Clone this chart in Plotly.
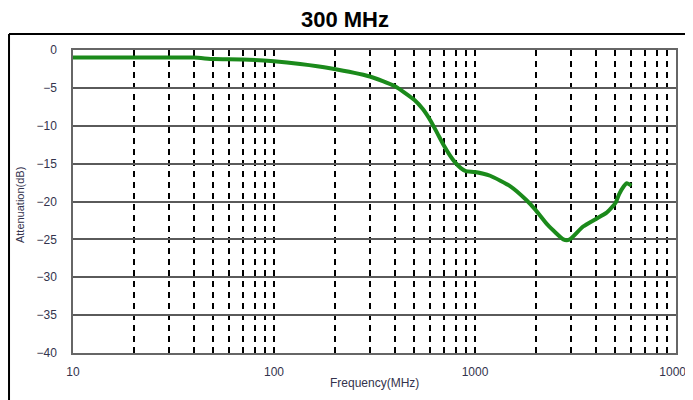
import plotly.graph_objects as go

freq_mhz = [10, 20, 40, 50, 70, 100, 135, 190, 300, 400, 500, 550, 600, 650, 700, 750, 800,
            850, 900, 1000, 1190, 1500, 1800, 2000, 2300, 2750, 2900, 3000, 3450, 4000,
            4500, 5000, 5200, 5500, 5700, 6000]
attenuation_db = [-1.0, -1.0, -1.0, -1.2, -1.25, -1.5, -1.85, -2.4, -3.5, -4.8, -6.6, -7.8,
                  -9.3, -11.0, -12.6, -13.9, -14.9, -15.6, -16.0, -16.1, -16.6, -18.0, -19.8,
                  -21.1, -23.1, -25.0, -25.1, -24.9, -23.3, -22.3, -21.5, -20.2, -19.1, -18.0,
                  -17.6, -17.9]

x_major_ticks = [10, 100, 1000, 10000]
x_major_labels = ["10", "100", "1000", "10000"]
x_minor_ticks = [m * d for d in (10, 100, 1000) for m in range(2, 10)]
y_ticks = [0, -5, -10, -15, -20, -25, -30, -35, -40]
y_labels = ["0", "\u22125", "\u221210", "\u221215", "\u221220", "\u221225", "\u221230", "\u221235", "\u221240"]

fig = go.Figure()
fig.add_trace(go.Scatter(
    x=freq_mhz, y=attenuation_db, mode="lines",
    line=dict(color="#1b8a1b", width=4, shape="spline", smoothing=0.5),
    showlegend=False, hoverinfo="skip",
))

font_family = "Liberation Sans, Arial, sans-serif"
tick_font = dict(family=font_family, size=12, color="#33334d")

fig.update_layout(
    width=693, height=392,
    margin=dict(l=65, r=25, t=42, b=47, autoexpand=False),
    paper_bgcolor="white", plot_bgcolor="white",
    title=dict(text="<b>300 MHz</b>", x=337 / 693, xanchor="center", y=1 - 11 / 392, yanchor="middle",
               font=dict(family=font_family, size=22, color="black")),
    xaxis=dict(
        type="log", range=[1, 4], automargin=False,
        tickvals=x_major_ticks, ticktext=x_major_labels, tickfont=tick_font,
        ticks="", ticklabelstandoff=7,
        showgrid=True, gridcolor="black", gridwidth=1.5, griddash="6px,5px",
        minor=dict(tickvals=x_minor_ticks, showgrid=True, gridcolor="black",
                   gridwidth=1.5, griddash="6px,5px", ticks=""),
        showline=True, linecolor="#666", linewidth=1.5, mirror=True,
        zeroline=False,
    ),
    yaxis=dict(
        range=[-40, 0], automargin=False, tickvals=y_ticks, ticktext=y_labels,
        tickfont=tick_font, ticks="", ticklabelstandoff=12,
        showgrid=True, gridcolor="#5a5a5a", gridwidth=1.5,
        showline=True, linecolor="#666", linewidth=1.5, mirror=True,
        zeroline=False,
    ),
    annotations=[
        dict(text="Frequency(MHz)", xref="paper", yref="paper", x=0.5008, y=-0.099,
             xanchor="center", yanchor="middle", showarrow=False,
             font=dict(family=font_family, size=12, color="#33334d")),
        dict(text="Attenuation(dB)", xref="paper", yref="paper", x=-0.088, y=0.488,
             xanchor="center", yanchor="middle", showarrow=False, textangle=-90,
             font=dict(family=font_family, size=11, color="#33334d")),
    ],
    shapes=[
        dict(type="line", xref="paper", yref="paper", x0=-0.1061, x1=1.1, y0=1.0528, y1=1.0528,
             line=dict(color="black", width=2)),
        dict(type="line", xref="paper", yref="paper", x0=-0.1061, x1=-0.1061, y0=1.0528, y1=-0.2,
             line=dict(color="black", width=2)),
    ],
)

fig.write_html("out.html")
